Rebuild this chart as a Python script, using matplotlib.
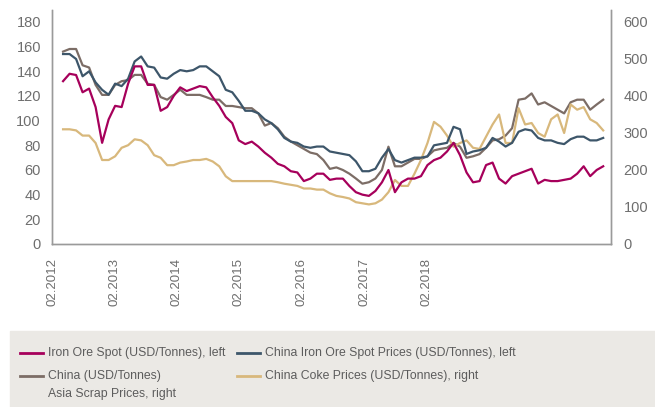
import matplotlib
matplotlib.use('Agg')
import matplotlib.pyplot as plt
from matplotlib.lines import Line2D
from matplotlib.patches import Rectangle
import matplotlib.font_manager as fm

# ── data (one point per period) ─────────────────────────────────────────────
iron_ore = [132, 138, 137, 123, 126, 111, 82, 101, 112, 111,
            130, 144, 144, 129, 129, 108, 111, 120, 127, 124,
            126, 128, 127, 119, 112, 103, 98, 84, 81, 83,
            79, 74, 70, 65, 63, 59, 58, 51, 53, 57,
            57, 52, 53, 53, 47, 42, 40, 39, 43, 50,
            60, 42, 50, 53, 53, 55, 64, 68, 70, 75,
            82, 72, 58, 50, 51, 64, 66, 53, 49, 55,
            57, 59, 61, 49, 52, 51, 51, 52, 53, 57,
            63, 55, 60, 63]

china_iron_ore = [154, 154, 150, 136, 140, 131, 125, 121, 130, 128,
                  134, 148, 152, 144, 143, 135, 134, 138, 141, 140,
                  141, 144, 144, 140, 136, 125, 123, 116, 108, 108,
                  106, 101, 98, 93, 86, 83, 82, 79, 78, 79,
                  79, 75, 74, 73, 72, 67, 59, 59, 61, 70,
                  77, 68, 66, 68, 70, 70, 71, 80, 81, 82,
                  95, 93, 73, 75, 76, 78, 86, 83, 79, 82,
                  91, 93, 92, 86, 84, 84, 82, 81, 85, 87,
                  87, 84, 84, 86]

asia_scrap = [520, 527, 527, 483, 477, 430, 403, 403, 430, 440,
              443, 457, 457, 433, 430, 397, 390, 403, 417, 403,
              403, 403, 397, 390, 390, 373, 373, 370, 367, 367,
              353, 320, 327, 313, 290, 277, 267, 257, 247, 243,
              227, 203, 207, 200, 190, 177, 163, 167, 177, 200,
              263, 210, 210, 220, 230, 230, 237, 253, 257, 260,
              273, 263, 233, 237, 243, 260, 280, 283, 293, 313,
              390, 393, 407, 377, 383, 373, 363, 353, 383, 390,
              390, 363, 377, 390]

china_coke = [310, 310, 307, 293, 293, 273, 227, 227, 237, 260,
              267, 283, 280, 267, 240, 233, 213, 213, 220, 223,
              227, 227, 230, 223, 210, 183, 170, 170, 170, 170,
              170, 170, 170, 167, 163, 160, 157, 150, 150, 147,
              147, 137, 130, 127, 123, 113, 110, 107, 110, 120,
              140, 173, 157, 157, 190, 227, 273, 330, 317, 293,
              263, 273, 280, 260, 257, 290, 323, 350, 273, 273,
              367, 323, 327, 300, 290, 337, 350, 300, 377, 363,
              370, 337, 327, 307]

periods = list(range(len(iron_ore)))

tick_pos = [-1.7, 7.9, 17.5, 27.0, 36.7, 46.3, 55.9]
tick_labels = ['02.2012', '02.2013', '02.2014', '02.2015',
               '02.2016', '02.2017', '02.2018']

left_ticks = [0, 20, 40, 60, 80, 100, 120, 140, 160, 180]
right_ticks = [0, 100, 200, 300, 400, 500, 600]

RED = '#a6005b'
BLUE = '#3d566a'
TAUPE = '#7c6d66'
TAN = '#d8b87c'
GREY_TXT = '#6e6e6e'
SPINE = '#9a9a9a'

installed = {f.name for f in fm.fontManager.ttflist}
FONT = 'Liberation Sans' if 'Liberation Sans' in installed else 'DejaVu Sans'
plt.rcParams['font.family'] = FONT

fig = plt.figure(figsize=(6.55, 4.07), dpi=100)
ax = fig.add_axes([52 / 655, 1 - 244 / 407, 559 / 655, 234 / 407])
ax2 = ax.twinx()

ax.plot(periods, iron_ore, color=RED, lw=1.6, zorder=4)
ax.plot(periods, china_iron_ore, color=BLUE, lw=1.6, zorder=3)
ax2.plot(periods, asia_scrap, color=TAUPE, lw=1.6)
ax2.plot(periods, china_coke, color=TAN, lw=1.6)

ax.set_zorder(ax2.get_zorder() + 1)
ax.patch.set_visible(False)

ax.set_xlim(-0.91, 84.2)
ax.set_ylim(0, 189.7)
ax2.set_ylim(0, 632.4)

ax.set_yticks(left_ticks)
ax2.set_yticks(right_ticks)
ax.set_xticks(tick_pos)
ax.set_xticklabels(tick_labels, rotation=90)

for a in (ax, ax2):
    a.spines['top'].set_visible(False)
    for s in ('left', 'right', 'bottom'):
        a.spines[s].set_color(SPINE)
        a.spines[s].set_linewidth(1.0)
ax.tick_params(axis='y', length=0, pad=8, labelsize=10.5, labelcolor=GREY_TXT)
ax2.tick_params(axis='y', length=0, pad=9, labelsize=10.5, labelcolor=GREY_TXT)
ax.tick_params(axis='x', length=0, pad=10, labelsize=9.5, labelcolor=GREY_TXT)

# ── legend panel ────────────────────────────────────────────────────────────
fig.patches.append(Rectangle((10 / 655, 0), 645 / 655, 76 / 407,
                             transform=fig.transFigure, color='#ebe9e5',
                             zorder=0))
entries = [
    (RED, 'Iron Ore Spot (USD/Tonnes), left', 20, 353),
    (BLUE, 'China Iron Ore Spot Prices (USD/Tonnes), left', 237, 353),
    (TAUPE, 'China (USD/Tonnes)', 20, 376),
    (TAN, 'China Coke Prices (USD/Tonnes), right', 237, 376),
]
for col, txt, x0, y0 in entries:
    yf = 1 - y0 / 407
    fig.add_artist(Line2D([x0 / 655, (x0 + 23) / 655], [yf, yf],
                          transform=fig.transFigure, color=col, lw=2))
    fig.text((x0 + 28) / 655, yf, txt, va='center', ha='left',
             fontsize=8.8, color='#5c5c5c')
fig.text(48 / 655, 1 - 394 / 407, 'Asia Scrap Prices, right', va='center',
         ha='left', fontsize=8.8, color='#5c5c5c')

fig.savefig('out.png', dpi=100)
